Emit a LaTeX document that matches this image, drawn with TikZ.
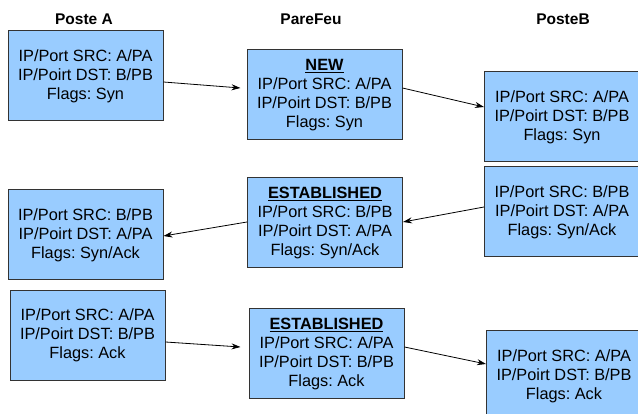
\documentclass[tikz,border=0pt]{standalone}
\usepackage{fontspec}
\setmainfont{Liberation Sans}
\frenchspacing
\usetikzlibrary{arrows.meta}
\definecolor{boxblue}{HTML}{99CCFF}
\definecolor{boxline}{HTML}{333333}
\tikzset{
  pkt/.style={draw=boxline, line width=1pt, fill=boxblue, rectangle,
    minimum width=155pt, minimum height=90pt, inner sep=2pt,
    align=center, font=\frenchspacing\fontsize{16.3}{18.8}\selectfont},
  title/.style={font=\bfseries\fontsize{15.5}{18}\selectfont},
  conn/.style={line width=0.8pt, -{Stealth[length=9pt,width=6pt]}}
}
\begin{document}
\begin{tikzpicture}[x=1pt,y=-1pt]
\useasboundingbox (0,0) rectangle (638,414);
\clip (0,0) rectangle (638,414);
\node[title] (tA) at (84,19) {Poste A};
\node[title] (tF) at (311,19) {PareFeu};
\node[title] (tB) at (563,19) {PosteB};

\node[pkt] (A1) at (85.5,76) {IP/Port SRC: A/PA\\IP/Poirt DST: B/PB\\Flags: Syn};
\node[pkt] (F1) at (324.5,95) {\underline{\textbf{NEW}}\\IP/Port SRC: A/PA\\IP/Poirt DST: B/PB\\Flags: Syn};
\node[pkt] (B1) at (562,117) {IP/Port SRC: A/PA\\IP/Poirt DST: B/PB\\Flags: Syn};

\node[pkt] (B2) at (562,212) {IP/Port SRC: B/PB\\IP/Poirt DST: A/PA\\Flags: Syn/Ack};
\node[pkt] (F2) at (325,223) {\underline{\textbf{ESTABLISHED}}\\IP/Port SRC: B/PB\\IP/Poirt DST: A/PA\\Flags: Syn/Ack};
\node[pkt] (A2) at (85.5,235) {IP/Port SRC: B/PB\\IP/Poirt DST: A/PA\\Flags: Syn/Ack};

\node[pkt] (A3) at (87.5,335.5) {IP/Port SRC: A/PA\\IP/Poirt DST: B/PB\\Flags: Ack};
\node[pkt] (F3) at (326.5,354) {\underline{\textbf{ESTABLISHED}}\\IP/Port SRC: A/PA\\IP/Poirt DST: B/PB\\Flags: Ack};
\node[pkt] (B3) at (564,376) {IP/Port SRC: A/PA\\IP/Poirt DST: B/PB\\Flags: Ack};

\draw[conn] ([yshift=-6pt]A1.east) -- ([xshift=-6pt,yshift=7pt]F1.west);
\draw[conn] ([yshift=7pt]F1.east) -- ([yshift=10pt]B1.west);
\draw[conn] ([yshift=5pt]B2.west) -- ([yshift=1pt]F2.east);
\draw[conn] ([yshift=1pt]F2.west) -- ([yshift=-1pt]A2.east);
\draw[conn] ([yshift=-6.5pt]A3.east) -- ([xshift=-8pt,yshift=7pt]F3.west);
\draw[conn] ([yshift=7pt]F3.east) -- ([yshift=12pt]B3.west);
\end{tikzpicture}
\end{document}
